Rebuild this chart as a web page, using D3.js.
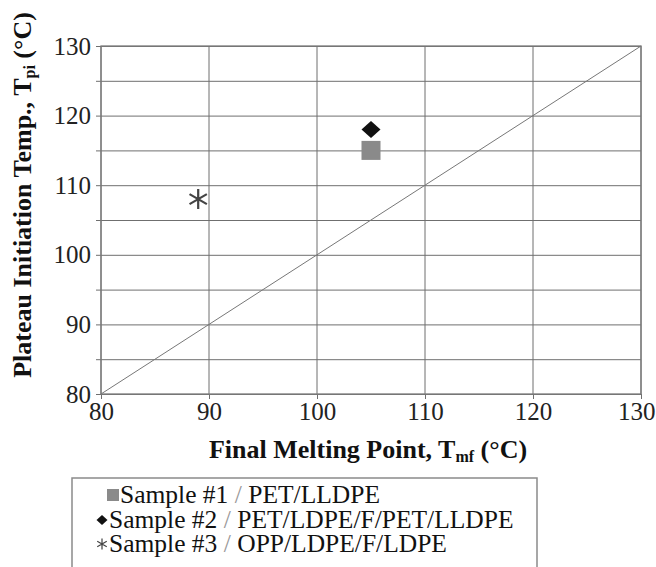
<!DOCTYPE html>
<html>
<head>
<meta charset="utf-8">
<script src="https://cdn.jsdelivr.net/npm/d3@7"></script>
<style>
  html, body { margin: 0; padding: 0; background: #fff; }
  svg { display: block; }
  svg text { font-family: "Liberation Serif", "Times New Roman", serif; }
</style>
</head>
<body>
<svg id="chart" width="656" height="567"></svg>
<script>
// Final melting point vs. plateau initiation temperature for three seal samples
const sampleNames = ["Sample #1", "Sample #2", "Sample #3"];
const sampleStructures = ["PET/LLDPE", "PET/LDPE/F/PET/LLDPE", "OPP/LDPE/F/LDPE"];
const finalMeltingPoint = [105, 105, 89];     // T_mf (°C)
const plateauInitiation = [115, 118, 108];    // T_pi (°C)
const xTicks = [80, 90, 100, 110, 120, 130];
const yTicks = [80, 90, 100, 110, 120, 130];
const yGrid = [80, 85, 90, 95, 100, 105, 110, 115, 120, 125, 130];

const svg = d3.select("#chart");
const plotL = 101, plotR = 641, plotT = 46, plotB = 394;

const x = d3.scaleLinear().domain([80, 130]).range([plotL, plotR]);
const y = d3.scaleLinear().domain([80, 130]).range([plotB, plotT]);

const gridColor = "#6f6f6f";
const serif = "'Liberation Serif', 'Times New Roman', serif";
const tickFont = 25;

// horizontal grid every 5 °C with outward ticks
const yAxis = d3.axisLeft(y).tickValues(yGrid).tickSize(-(plotR - plotL)).tickSizeOuter(0)
  .tickFormat(d => yTicks.includes(d) ? d : "");
const gy = svg.append("g").attr("transform", `translate(${plotL},0)`).call(yAxis);
gy.attr("font-family", null);
gy.select(".domain").remove();
gy.selectAll(".tick line").attr("stroke", gridColor).attr("stroke-width", 1).attr("x1", -5);
gy.selectAll(".tick text").attr("x", -10).attr("font-size", tickFont)
  .style("font-family", serif).attr("fill", "#222");

// vertical grid every 10 °C
svg.append("g").selectAll("line").data(xTicks).join("line")
  .attr("x1", d => x(d)).attr("x2", d => x(d)).attr("y1", plotT).attr("y2", plotB)
  .attr("stroke", gridColor).attr("stroke-width", 1);

const xAxis = d3.axisBottom(x).tickValues(xTicks).tickSize(5).tickSizeOuter(0);
const gx = svg.append("g").attr("transform", `translate(0,${plotB})`).call(xAxis);
gx.attr("font-family", null);
gx.select(".domain").remove();
gx.selectAll(".tick line").attr("stroke", gridColor).attr("stroke-width", 1);
gx.selectAll(".tick text").attr("y", 8).attr("dy", "0.71em").attr("font-size", tickFont)
  .style("font-family", serif).attr("fill", "#222");
// keep the last label inside the canvas
gx.selectAll(".tick text").filter(d => d === xTicks[xTicks.length - 1])
  .attr("text-anchor", "end").attr("x", 14);

// plot frame
svg.append("rect").attr("x", plotL).attr("y", plotT)
  .attr("width", plotR - plotL).attr("height", plotB - plotT)
  .attr("fill", "none").attr("stroke", "#7a7a7a").attr("stroke-width", 1.3);

// equality line T_pi = T_mf
svg.append("line")
  .attr("x1", x(80)).attr("y1", y(80)).attr("x2", x(130)).attr("y2", y(130))
  .attr("stroke", "#777").attr("stroke-width", 1);

// marker shapes
function drawMarker(g, i, cx, cy, s) {
  if (i === 0) {
    g.append("rect").attr("x", cx - s / 2).attr("y", cy - s / 2)
      .attr("width", s).attr("height", s).attr("fill", "#8a8a8a");
  } else if (i === 1) {
    const h = s / 2;
    g.append("path")
      .attr("d", `M${cx},${cy - h * 0.9}L${cx + h},${cy}L${cx},${cy + h * 0.9}L${cx - h},${cy}Z`)
      .attr("fill", "#111");
  } else {
    const r = s / 2;
    const p = [];
    [90, 30, 150].forEach(a => {
      const rad = a * Math.PI / 180;
      p.push(`M${cx - r * Math.cos(rad)},${cy - r * Math.sin(rad)}L${cx + r * Math.cos(rad)},${cy + r * Math.sin(rad)}`);
    });
    g.append("path").attr("d", p.join("")).attr("stroke", "#444")
      .attr("stroke-width", Math.max(1.2, s / 9)).attr("fill", "none");
  }
}

const pts = svg.append("g");
const markerSize = [19, 19, 20];
finalMeltingPoint.forEach((v, i) => {
  drawMarker(pts, i, x(v), y(plateauInitiation[i]), markerSize[i]);
});

// axis titles
const xt = svg.append("text").attr("x", 368).attr("y", 458).attr("text-anchor", "middle")
  .attr("font-size", 26).attr("font-weight", "bold").attr("fill", "#111");
xt.append("tspan").text("Final Melting Point, T");
xt.append("tspan").attr("font-size", 16).attr("dy", 4).text("mf");
xt.append("tspan").attr("dy", -4).text(" (°C)");

const yt = svg.append("text").attr("transform", "translate(31,195) rotate(-90)")
  .attr("text-anchor", "middle").attr("font-size", 26).attr("font-weight", "bold").attr("fill", "#111");
yt.append("tspan").text("Plateau Initiation Temp., T");
yt.append("tspan").attr("font-size", 16).attr("dy", 4).text("pi");
yt.append("tspan").attr("dy", -4).text(" (°C)");

// legend
const lg = svg.append("g");
lg.append("rect").attr("x", 72).attr("y", 478).attr("width", 465).attr("height", 100)
  .attr("fill", "#fff").attr("stroke", "#8a8a8a").attr("stroke-width", 1.5);
const legendMarkerX = [113, 102, 102];
const legendMarkerSize = [12, 11, 11];
const legendTextX = [120, 109, 109];
const legendBase = [503, 528, 552];
sampleNames.forEach((name, i) => {
  drawMarker(lg, i, legendMarkerX[i], legendBase[i] - 8, legendMarkerSize[i]);
  const t = lg.append("text").attr("x", legendTextX[i]).attr("y", legendBase[i])
    .attr("font-size", 25.5).attr("fill", "#111");
  t.append("tspan").text(name + " ");
  t.append("tspan").attr("fill", "#999").text("/");
  t.append("tspan").text(" " + sampleStructures[i]);
});
</script>
</body>
</html>
